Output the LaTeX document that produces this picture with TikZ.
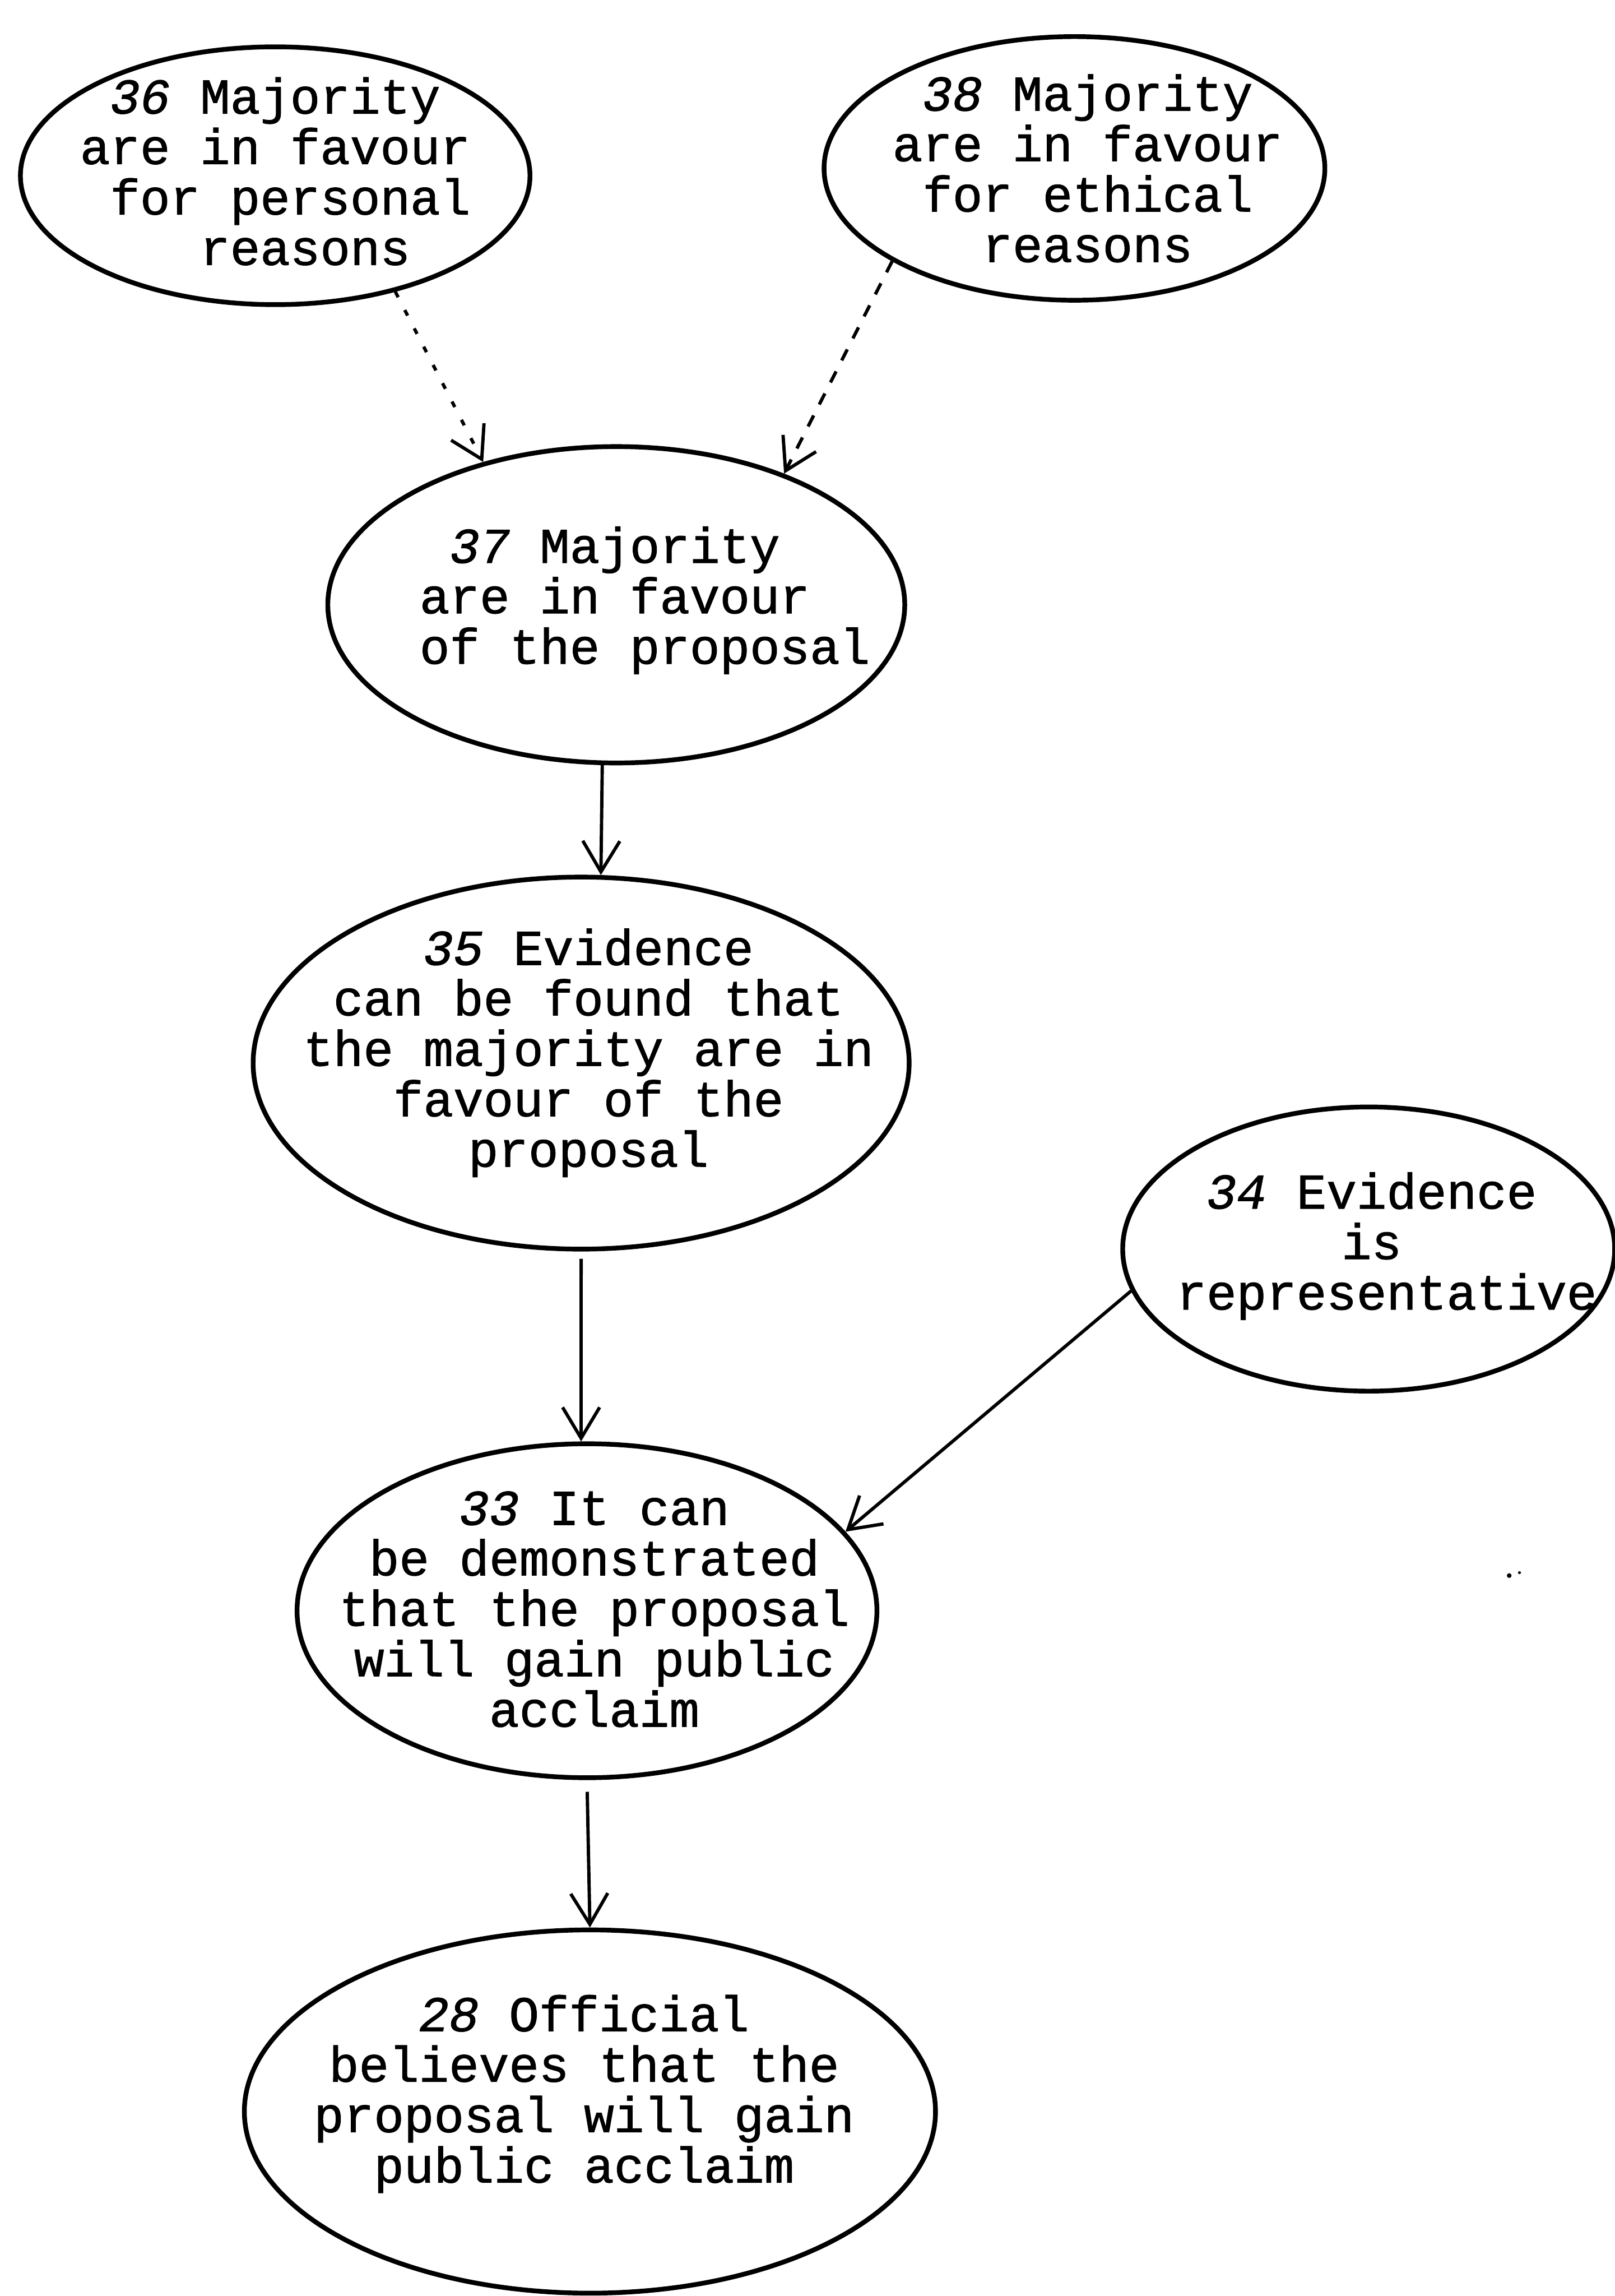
\documentclass[tikz,border=0pt]{standalone}
\usepackage{fontspec}
\setmonofont[FakeBold=1.2]{Liberation Mono}
\usetikzlibrary{shapes.geometric,arrows.meta}
\begin{document}
\begin{tikzpicture}[x=0.025cm,y=-0.025cm,
  bubble/.style 2 args={ellipse, draw, line width=2.3pt, inner sep=0pt,
    minimum width=#1*0.05cm, minimum height=#2*0.05cm},
  txt/.style={align=center, inner sep=0pt,
    font=\fontsize{24.3}{24.5}\selectfont\ttfamily},
  arr/.style={line width=1.6pt, -{Straight Barb[length=15pt,width=18pt,line width=1.6pt]}},
  dotline/.style={arr, dash pattern=on 3pt off 7pt},
  dashline/.style={arr, dash pattern=on 6pt off 6pt}]
\useasboundingbox (0,0) rectangle (1103,1568);

% propositions
\node[bubble={174}{88}]  (n36) at (188,120) {};
\node[bubble={171}{90}]  (n38) at (734,115) {};
\node[bubble={197}{108}] (n37) at (421,413) {};
\node[bubble={224}{127}] (n35) at (397,726) {};
\node[bubble={168}{97}]  (n34) at (935,853) {};
\node[bubble={198}{114}] (n33) at (401,1100) {};
\node[bubble={236}{124}] (n28) at (403,1442) {};

% their texts
\node[txt] (t36) at (188,117) {{\itshape 36} Majority\\are in favour\\~for personal\\~~reasons};
\node[txt] (t38) at (743,115) {{\itshape 38} Majority\\are in favour\\for ethical\\reasons};
\node[txt] (t37) at (420,410) {{\itshape 37} Majority\\are in favour\\~~of the proposal};
\node[txt] (t35) at (402,719) {{\itshape 35} Evidence\\can be found that\\the majority are in\\favour of the\\proposal~};
\node[txt] (t34) at (937,851) {{\itshape 34} Evidence\\is~\\~representative};
\node[txt] (t33) at (406,1099) {{\itshape 33} It can\\be demonstrated\\that the proposal\\will gain public~\\acclaim};
\node[txt] (t28) at (399,1430) {{\itshape 28} Official~\\believes that the~\\proposal will gain\\public acclaim};

% support links
\draw[dotline]  (n36.-44) -- (n37.133);
\draw[dashline] (n38.-153) -- (n37.38);
\draw[arr] (n37.-95) -- (n35.84);
\draw[arr, shorten <=0.125cm] (n35.-90) -- (n33.92);
\draw[arr] (n34.-170) -- (n33.17);
\draw[arr, shorten <=0.2cm] (n33.-90) -- (n28.90);

% speck of ink
\fill (1031,1076) circle (1.6);
\fill (1038,1074) circle (1.0);
\end{tikzpicture}
\end{document}
